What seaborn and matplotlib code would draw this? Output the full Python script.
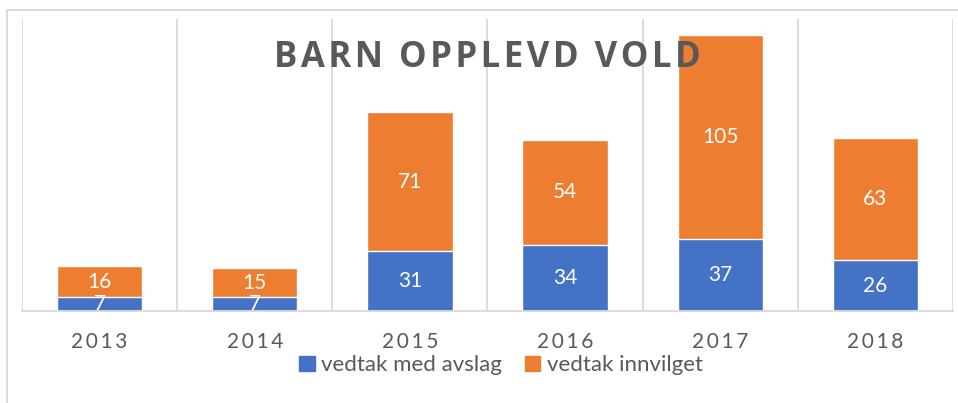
import matplotlib.pyplot as plt
import matplotlib.patches as mpatches
import seaborn as sns

years = ["2013", "2014", "2015", "2016", "2017", "2018"]
avslag = [7, 7, 31, 34, 37, 26]
innvilget = [16, 15, 71, 54, 105, 63]
totals = [a + b for a, b in zip(avslag, innvilget)]

BLUE = "#4472C4"
ORANGE = "#ED7D31"
GRID = "#D9D9D9"
TEXT = "#595959"

sns.set_style("white")
plt.rcParams["font.family"] = ["Lato", "DejaVu Sans"]

fig = plt.figure(figsize=(9.58, 4.03), dpi=100)
ax = fig.add_axes([22 / 958, 92 / 403, 931 / 958, 292 / 403])

# stacked bars: orange total first, blue part on top of it
sns.barplot(x=years, y=totals, color=ORANGE, width=0.55, saturation=1, ax=ax, zorder=2)
sns.barplot(x=years, y=avslag, color=BLUE, width=0.55, saturation=1, ax=ax, zorder=2)

ax.set_ylim(0, 150)
ax.set_xlim(-0.5, len(years) - 0.5)

# vertical separators between categories
for i in range(len(years) + 1):
    ax.axvline(i - 0.5, color=GRID, lw=1.3, zorder=0)

for s in ["top", "left", "right"]:
    ax.spines[s].set_visible(False)
ax.spines["bottom"].set_color(GRID)
ax.spines["bottom"].set_linewidth(1.3)
ax.set_yticks([])
ax.set_xticks(range(len(years)))
ax.set_xticklabels(["\u2009".join(y) for y in years], fontsize=15, color=TEXT)
ax.tick_params(axis="x", length=0, pad=15)
ax.set_xlabel("")
ax.set_ylabel("")

# value labels
for i, (a, b) in enumerate(zip(avslag, innvilget)):
    ax.text(i, a / 2, str(a), ha="center", va="center", color="white", fontsize=15, zorder=3)
    ax.text(i, a + b / 2, str(b), ha="center", va="center", color="white", fontsize=15, zorder=3)

# title inside the plot area, letters spaced out a little
title = "\u200a".join("BARN OPPLEVD VOLD")
ax.text(0.5, 0.866, title, transform=ax.transAxes, ha="center", va="center",
        fontsize=25, fontweight="bold", color=TEXT, family=["Open Sans", "DejaVu Sans"], zorder=4)

handles = [mpatches.Patch(color=BLUE, label="vedtak med avslag"),
           mpatches.Patch(color=ORANGE, label="vedtak innvilget")]
fig.legend(handles=handles, loc="center", bbox_to_anchor=(0.523, 0.094), ncol=2,
           frameon=False, fontsize=16, handlelength=0.7, handleheight=0.7,
           handletextpad=0.3, columnspacing=1.0, labelcolor=TEXT)

# outer chart frame
fig.add_artist(mpatches.Rectangle((7 / 958, -0.5), 2, 0.5 + (393 / 403), transform=fig.transFigure,
                                  fill=False, edgecolor=GRID, lw=1.3))

fig.savefig("out.png", dpi=100)
